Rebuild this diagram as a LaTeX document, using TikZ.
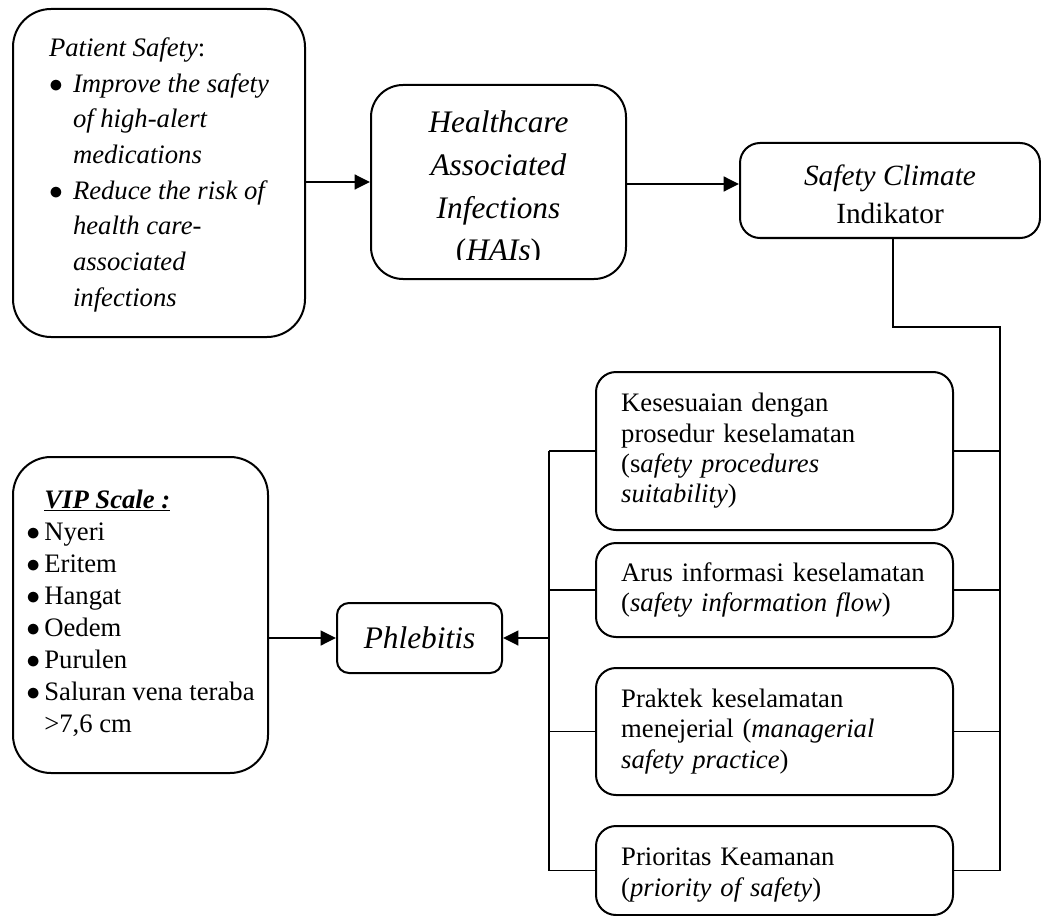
\documentclass[tikz,border=0pt]{standalone}
\usepackage{fontspec}
\setmainfont{Liberation Serif}
\usetikzlibrary{arrows.meta}
\newcommand\bulA[1]{\makebox[18pt][l]{$\bullet$}#1}
\newcommand\indA{\hspace*{18pt}}
\newcommand\bulB[1]{\makebox[13.5pt][l]{$\bullet$}#1}
\newcommand\indB{\hspace*{13.5pt}}
\begin{document}
\begin{tikzpicture}[x=0.75pt,y=-0.75pt,
  rbox/.style={draw, line width=1.5pt, inner sep=0pt, line join=round},
  dbox/.style={rbox, rounded corners=15pt, minimum width=267.75pt, text width=230pt, align=left, font=\fontsize{20}{22.75}\selectfont},
  conn/.style={line width=1.1pt, line join=miter},
  arr/.style={line width=1.8pt, -{Triangle[length=11.5pt,width=11pt]}}]
\useasboundingbox (0,0) rectangle (1041,916);

% top row
\node[rbox, rounded corners=28.5pt, minimum width=219pt, minimum height=246pt, align=left,
  font=\fontsize{20}{26.75}\selectfont] (A) at (159,173) {\rule{0pt}{17pt}\textit{Patient Safety}:\\
\bulA{\textit{Improve the safety}}\\
\indA\textit{of high-alert}\\
\indA\textit{medications}\\
\bulA{\textit{Reduce the risk of}}\\
\indA\textit{health care-}\\
\indA\textit{associated}\\
\indA\textit{infections}};

\node[rbox, rounded corners=24pt, minimum width=191.25pt, minimum height=145.5pt] (B) at (498.5,182) {};
\begin{scope}
\clip (B.north west) rectangle ([yshift=15.75pt]B.south east);
\node[anchor=base, inner sep=0pt, font=\fontsize{23.5}{32}\selectfont] (Btext) at (498.5,133)
  {\begin{tabular}[t]{@{}c@{}}\textit{Healthcare}\\ \textit{Associated}\\ \textit{Infections}\\ (\textit{HAIs})\end{tabular}};
\end{scope}

\node[rbox, rounded corners=15pt, minimum width=225pt, minimum height=71.25pt, align=center,
  font=\fontsize{22}{28.5}\selectfont] (C) at (890,190.5) {\rule{0pt}{20.5pt}\textit{Safety Climate}\\Indikator};

% bottom left
\node[rbox, rounded corners=28.5pt, minimum width=191.25pt, minimum height=237pt, align=left,
  font=\fontsize{20}{24}\selectfont] (V) at (140.5,615) {\indB\underline{\textbf{\textit{VIP Scale :}}}\\
\bulB{Nyeri}\\
\bulB{Eritem}\\
\bulB{Hangat}\\
\bulB{Oedem}\\
\bulB{Purulen}\\
\bulB{Saluran vena teraba}\\
\indB{}>7,6 cm\rule[-6pt]{0pt}{6pt}};

\node[rbox, rounded corners=9pt, minimum width=123.75pt, minimum height=52.5pt,
  font=\fontsize{23.5}{28}\selectfont\itshape] (P) at (419.5,638) {Phlebitis};

% indicator boxes
\node[dbox, minimum height=118.5pt] (D1) at (774.5,451) {Kesesuaian dengan\\prosedur keselamatan\\(s\textit{afety procedures}\\\textit{suitability})};
\node[dbox, minimum height=70.5pt] (D2) at (774.5,590) {Arus informasi keselamatan\\(\textit{safety information flow})};
\node[dbox, minimum height=95.25pt] (D3) at (774.5,731.5) {Praktek keselamatan\\menejerial (\textit{managerial}\\\textit{safety practice})};
\node[dbox, minimum height=66.75pt] (D4) at (774.5,870.5) {\rule{0pt}{20pt}Prioritas Keamanan\\(\textit{priority of safety})};

% connectors
\coordinate (knee) at (1000,327);
\coordinate (busL) at (549,451);
\draw[conn] ([xshift=2.25pt]C.south) |- (knee) -- (knee |- D4.east);
\foreach \n in {D1,D2,D3,D4} {
  \draw[conn] (\n.east) -- (\n.east -| knee);
  \draw[conn] (\n.west) -- (\n.west -| busL);
}
\draw[conn] (D1.west -| busL) -- (D4.west -| busL);

% arrows
\draw[arr] (A.east |- B.west) -- (B.west);
\draw[arr] ([yshift=-1.5pt]B.east) -- ([yshift=-1.5pt]B.east -| C.west);
\draw[arr] (V.east |- P.west) -- (P.west);
\draw[arr] (P.east -| busL) -- (P.east);
\end{tikzpicture}
\end{document}
